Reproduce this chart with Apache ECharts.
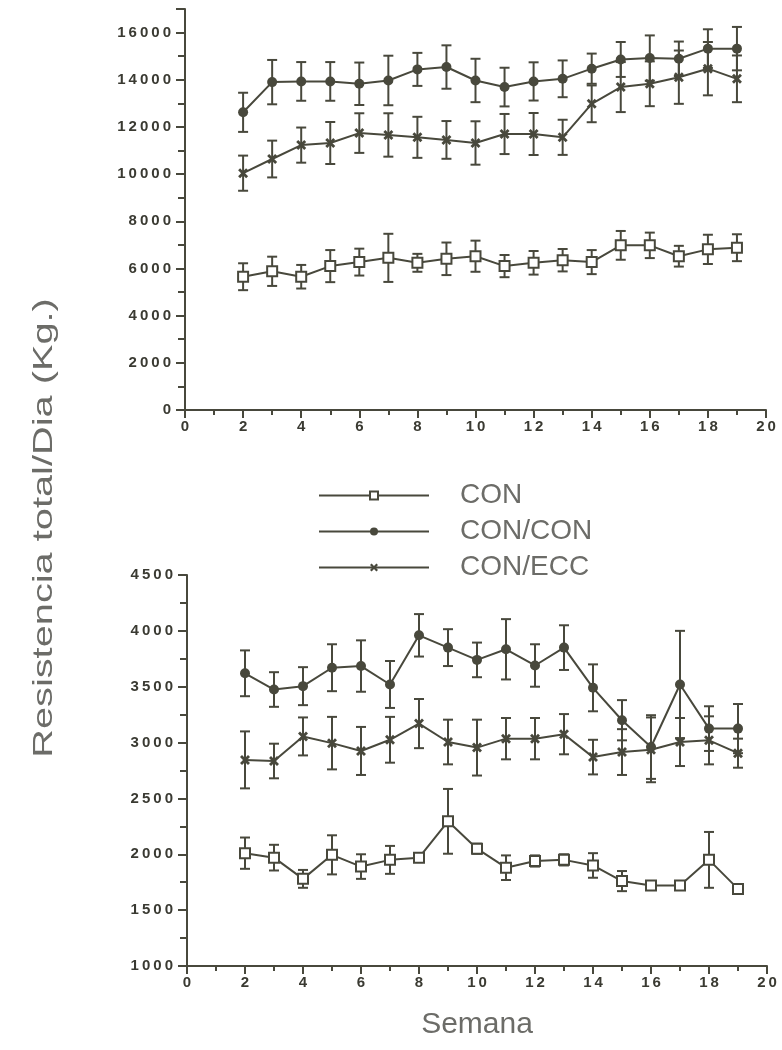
<!DOCTYPE html>
<html>
<head>
<meta charset="utf-8">
<script src="https://cdn.jsdelivr.net/npm/echarts@6/dist/echarts.min.js"></script>
<style>
  html, body { margin: 0; padding: 0; background: #ffffff; }
  #chart { width: 782px; height: 1050px; }
</style>
</head>
<body>
<div id="chart"></div>
<script>
// Weeks of training
const weeks = [2, 3, 4, 5, 6, 7, 8, 9, 10, 11, 12, 13, 14, 15, 16, 17, 18, 19];
const seriesNames = ['CON', 'CON/CON', 'CON/ECC'];

// Upper panel: total resistance per day (kg)
const conTop        = [5650, 5880, 5650, 6100, 6270, 6450, 6240, 6410, 6520, 6100, 6240, 6350, 6270, 6980, 6980, 6520, 6810, 6880];
const conTopErr     = [570, 620, 500, 680, 570, 1020, 380, 690, 660, 470, 500, 475, 510, 610, 540, 440, 620, 570];
const conConTop     = [12620, 13900, 13930, 13930, 13830, 13970, 14440, 14540, 13970, 13690, 13930, 14040, 14470, 14860, 14920, 14890, 15320, 15320];
const conConTopErr  = [830, 940, 820, 820, 900, 1050, 700, 920, 920, 820, 810, 780, 640, 740, 960, 730, 820, 920];
const conEccTop     = [10040, 10640, 11230, 11320, 11740, 11660, 11560, 11450, 11320, 11700, 11700, 11560, 12980, 13690, 13830, 14110, 14470, 14040];
const conEccTopErr  = [745, 780, 745, 890, 840, 920, 870, 800, 920, 850, 890, 745, 780, 1060, 950, 1130, 1130, 990];

// Lower panel
const conBot        = [2010, 1970, 1780, 1995, 1890, 1950, 1970, 2295, 2050, 1880, 1940, 1950, 1900, 1760, 1720, 1720, 1950, 1690];
const conBotErr     = [140, 115, 80, 175, 110, 125, 30, 290, 45, 110, 50, 50, 110, 90, 30, 30, 250, 40];
const conConBot     = [3620, 3475, 3505, 3670, 3685, 3520, 3960, 3850, 3740, 3835, 3690, 3850, 3490, 3200, 2960, 3520, 3125, 3125];
const conConBotErr  = [205, 155, 170, 210, 230, 210, 190, 165, 155, 270, 190, 200, 210, 180, 285, 480, 200, 220];
const conEccBot     = [2845, 2835, 3055, 2995, 2925, 3025, 3170, 3005, 2955, 3035, 3035, 3075, 2870, 2915, 2935, 3005, 3020, 2905];
const conEccBotErr  = [255, 155, 170, 235, 215, 205, 220, 200, 250, 185, 185, 180, 155, 205, 290, 215, 215, 130];

const INK = '#48483c';
const LABEL = '#3a3a32';
const TITLE = '#6c6c68';
const FONT = '"Liberation Sans", Arial, sans-serif';
const crossPath = 'path://M0,2 L2,0 L5,3 L8,0 L10,2 L7,5 L10,8 L8,10 L5,7 L2,10 L0,8 L3,5 Z';

const spaced = v => String(v).split('').join('\u2009');

const symbolStyle = {
  'CON':     { symbol: 'rect', symbolSize: 10, itemStyle: { color: '#ffffff', borderColor: INK, borderWidth: 2 } },
  'CON/CON': { symbol: 'circle', symbolSize: 10, itemStyle: { color: INK, borderColor: INK, borderWidth: 0 } },
  'CON/ECC': { symbol: crossPath, symbolSize: 10, itemStyle: { color: INK, borderColor: INK, borderWidth: 0 } }
};

function lineSeries(name, values, idx) {
  const s = symbolStyle[name];
  return {
    name: name,
    type: 'line',
    xAxisIndex: idx,
    yAxisIndex: idx,
    data: weeks.map((w, i) => [w, values[i]]),
    symbol: s.symbol,
    symbolSize: s.symbolSize,
    showAllSymbol: true,
    itemStyle: s.itemStyle,
    lineStyle: { color: INK, width: 2 },
    z: 3,
    animation: false
  };
}

// Vertical error bars with caps, drawn beneath the markers
function errorSeries(name, values, errs, idx) {
  return {
    name: name + ' ±',
    type: 'custom',
    xAxisIndex: idx,
    yAxisIndex: idx,
    data: weeks.map((w, i) => [w, values[i] - errs[i], values[i] + errs[i]]),
    encode: { x: 0, y: [1, 2] },
    z: 2,
    silent: true,
    animation: false,
    renderItem: function (params, api) {
      const x = api.value(0);
      const lo = api.coord([x, api.value(1)]);
      const hi = api.coord([x, api.value(2)]);
      const cap = 5;
      const style = { stroke: INK, lineWidth: 2 };
      return {
        type: 'group',
        children: [
          { type: 'line', shape: { x1: lo[0], y1: lo[1], x2: hi[0], y2: hi[1] }, style: style },
          { type: 'line', shape: { x1: hi[0] - cap, y1: hi[1], x2: hi[0] + cap, y2: hi[1] }, style: style },
          { type: 'line', shape: { x1: lo[0] - cap, y1: lo[1], x2: lo[0] + cap, y2: lo[1] }, style: style }
        ]
      };
    }
  };
}

function xAxisDef(idx, withName) {
  return {
    type: 'value',
    gridIndex: idx,
    min: 0, max: 20, interval: 2,
    axisLine: { show: true, onZero: false, lineStyle: { color: INK, width: 2 } },
    axisTick: { show: true, length: 8, lineStyle: { color: INK, width: 2 } },
    minorTick: { show: true, splitNumber: 2, length: 5, lineStyle: { color: INK, width: 2 } },
    splitLine: { show: false },
    axisLabel: {
      color: LABEL, fontFamily: FONT, fontWeight: 'bold',
      fontSize: 15, margin: 9, formatter: spaced
    },
    name: withName ? 'Semana' : '',
    nameLocation: 'middle',
    nameGap: 44,
    nameTextStyle: { color: TITLE, fontFamily: FONT, fontSize: 30 }
  };
}

function yAxisDef(idx, min, max, interval, minorSplit) {
  return {
    type: 'value',
    gridIndex: idx,
    min: min, max: max, interval: interval,
    axisLine: { show: true, lineStyle: { color: INK, width: 2 } },
    axisTick: { show: true, length: 9, lineStyle: { color: INK, width: 2 } },
    minorTick: { show: true, splitNumber: minorSplit, length: 7, lineStyle: { color: INK, width: 2 } },
    splitLine: { show: false },
    axisLabel: {
      color: LABEL, fontFamily: FONT, fontWeight: 'bold',
      fontSize: 15, margin: 14, showMaxLabel: max % interval === 0,
      formatter: spaced
    }
  };
}

const chart = echarts.init(document.getElementById('chart'), null, { renderer: 'canvas' });

chart.setOption({
  backgroundColor: '#ffffff',
  animation: false,
  grid: [
    { left: 185, top: 9, width: 581, height: 401 },
    { left: 187, top: 575, width: 580, height: 391 }
  ],
  xAxis: [xAxisDef(0, false), xAxisDef(1, true)],
  yAxis: [yAxisDef(0, 0, 17000, 2000, 2), yAxisDef(1, 1000, 4500, 500, 2)],
  legend: {
    data: seriesNames,
    orient: 'vertical',
    left: 313,
    top: 476,
    itemWidth: 110,
    itemHeight: 10,
    itemGap: 7,
    selectedMode: false,
    lineStyle: { color: INK, width: 2 },
    textStyle: { color: TITLE, fontFamily: FONT, fontSize: 28, lineHeight: 29, padding: [0, 0, 0, 26] }
  },
  graphic: [
    {
      type: 'text',
      x: 44,
      y: 528,
      rotation: Math.PI / 2,
      scaleX: 1.42,
      style: {
        text: 'Resistencia total/Dia (Kg.)',
        fill: TITLE,
        font: '28px ' + FONT,
        textAlign: 'center',
        textVerticalAlign: 'middle'
      }
    }
  ],
  series: [
    errorSeries('CON', conTop, conTopErr, 0),
    errorSeries('CON/CON', conConTop, conConTopErr, 0),
    errorSeries('CON/ECC', conEccTop, conEccTopErr, 0),
    lineSeries('CON', conTop, 0),
    lineSeries('CON/CON', conConTop, 0),
    lineSeries('CON/ECC', conEccTop, 0),
    errorSeries('CON', conBot, conBotErr, 1),
    errorSeries('CON/CON', conConBot, conConBotErr, 1),
    errorSeries('CON/ECC', conEccBot, conEccBotErr, 1),
    lineSeries('CON', conBot, 1),
    lineSeries('CON/CON', conConBot, 1),
    lineSeries('CON/ECC', conEccBot, 1)
  ]
});
</script>
</body>
</html>
